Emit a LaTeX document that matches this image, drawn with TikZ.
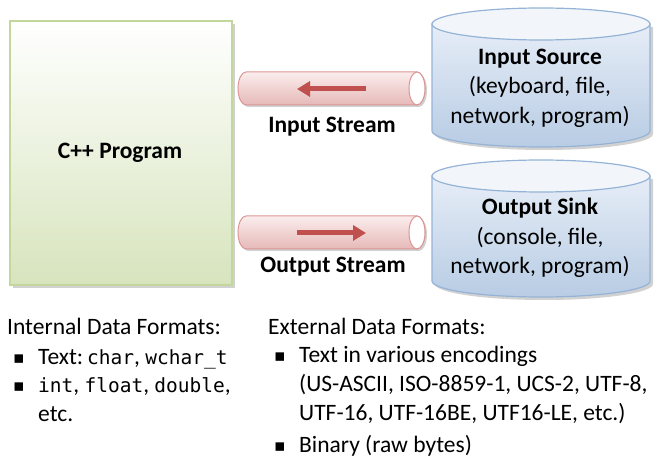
\documentclass[tikz,border=0pt]{standalone}
\usepackage{fontspec}
\setmainfont{Carlito}
\newfontfamily\codefont{DejaVu Sans Mono}
\newfontfamily\symfont{DejaVu Sans}
\usetikzlibrary{arrows.meta}
\definecolor{boxborder}{HTML}{C3D69B}
\definecolor{boxbottom}{HTML}{D7E4BD}
\definecolor{cylborder}{HTML}{95B3D7}
\definecolor{cyltop}{HTML}{E6EDF7}
\definecolor{cylbottom}{HTML}{B8CCE4}
\definecolor{cyllid}{HTML}{F2F6FB}
\definecolor{pipeborder}{HTML}{D99694}
\definecolor{pipetop}{HTML}{FBEDED}
\definecolor{pipebottom}{HTML}{E6B9B8}
\definecolor{arrowred}{HTML}{C0504D}
\tikzset{
  boldlabel/.style={font=\bfseries\fontsize{23.5}{27}\selectfont, inner sep=0pt},
  cyltext/.style={align=center, font=\fontsize{23.5}{29.5}\selectfont, inner sep=0pt},
  listtext/.style={anchor=base west, font=\fontsize{23.5}{27}\selectfont, inner sep=0pt},
  bullet/.style={anchor=base west, font=\symfont\fontsize{17}{18}\selectfont, inner sep=0pt},
  shadowfill/.style={fill=black, opacity=0.18},
  streamarrow/.style={arrowred, line width=5pt, -{Triangle[length=13pt,width=15pt]}},
}
\newcommand{\cd}[1]{{\codefont\fontsize{19.5}{24}\selectfont #1}}
\begin{document}
\begin{tikzpicture}[x=1pt,y=-1pt]
\useasboundingbox (0,0) rectangle (665,462);
% C++ program box
\fill[shadowfill] (13,24) rectangle (235,288);
\shade[top color=white, bottom color=boxbottom, draw=boxborder, line width=1.2pt] (10,21) rectangle (232,285);
\node[boldlabel] (prog) at (120,153) {C++ Program};

% Input pipe
\fill[shadowfill] (419,74) -- (248,74) arc[start angle=-90,end angle=-270,x radius=8,y radius=16.5] -- (419,107) arc[start angle=90,end angle=-90,x radius=8,y radius=16.5] -- cycle;
\shade[top color=pipetop, bottom color=pipebottom, draw=pipeborder, line width=1pt]
  (417,72) -- (246,72) arc[start angle=-90,end angle=-270,x radius=8,y radius=16.5] -- (417,105) arc[start angle=90,end angle=-90,x radius=8,y radius=16.5] -- cycle;
\filldraw[fill=white, draw=pipeborder, line width=1pt] (417,88.5) ellipse[x radius=8,y radius=16.5];
\coordinate (ia) at (366,89);
\coordinate (ib) at (297,89);
\draw[streamarrow] (ia) -- (ib);
\node[boldlabel, anchor=base] (instream) at (332,133) {Input Stream};

% Output pipe
\fill[shadowfill] (419,218) -- (248,218) arc[start angle=-90,end angle=-270,x radius=8,y radius=16.5] -- (419,251) arc[start angle=90,end angle=-90,x radius=8,y radius=16.5] -- cycle;
\shade[top color=pipetop, bottom color=pipebottom, draw=pipeborder, line width=1pt]
  (417,216) -- (246,216) arc[start angle=-90,end angle=-270,x radius=8,y radius=16.5] -- (417,249) arc[start angle=90,end angle=-90,x radius=8,y radius=16.5] -- cycle;
\filldraw[fill=white, draw=pipeborder, line width=1pt] (417,232.5) ellipse[x radius=8,y radius=16.5];
\coordinate (oa) at (297,233);
\coordinate (ob) at (366,233);
\draw[streamarrow] (oa) -- (ob);
\node[boldlabel, anchor=base] (outstream) at (333,273) {Output Stream};

% Input Source cylinder
\fill[shadowfill] (435,27) -- (435,134) arc[start angle=180,end angle=0,x radius=109,y radius=16] -- (653,27) -- cycle;
\shade[top color=cyltop, bottom color=cylbottom, draw=cylborder, line width=1.2pt]
  (432,24) -- (432,131) arc[start angle=180,end angle=0,x radius=109,y radius=16] -- (650,24) -- cycle;
\filldraw[fill=cyllid, draw=cylborder, line width=1.2pt] (541,24) ellipse[x radius=109,y radius=16];
\node[cyltext] (src) at (540,88) {\textbf{Input Source}\\(keyboard, file,\\network, program)};

% Output Sink cylinder
\fill[shadowfill] (435,179) -- (435,284) arc[start angle=180,end angle=0,x radius=109,y radius=16] -- (653,179) -- cycle;
\shade[top color=cyltop, bottom color=cylbottom, draw=cylborder, line width=1.2pt]
  (432,176) -- (432,281) arc[start angle=180,end angle=0,x radius=109,y radius=16] -- (650,176) -- cycle;
\filldraw[fill=cyllid, draw=cylborder, line width=1.2pt] (541,176) ellipse[x radius=109,y radius=16];
\node[cyltext] (sink) at (540,238) {\textbf{Output Sink}\\(console, file,\\network, program)};

% Internal formats
\node[listtext] (inthead) at (7,335) {Internal Data Formats:};
\node[bullet] (ib1) at (13,364) {▪};
\node[listtext] (int1) at (38,365) {Text:\,\cd{char}, \cd{wchar\_t}};
\node[bullet] (ib2) at (13,392) {▪};
\node[listtext] (int2) at (38,393) {\cd{int}, \cd{float}, \cd{double},};
\node[listtext] (int3) at (38,422) {etc.};

% External formats
\node[listtext] (exthead) at (268,335) {External Data Formats:};
\node[bullet] (eb1) at (274,362) {▪};
\node[listtext] (ext1) at (299,363) {Text in various encodings};
\node[listtext] (ext2) at (299,392) {(US-ASCII, ISO-8859-1, UCS-2, UTF-8,};
\node[listtext] (ext3) at (299,421) {UTF-16, UTF-16BE, UTF16-LE, etc.)};
\node[bullet] (eb2) at (274,452) {▪};
\node[listtext] (ext4) at (299,453) {Binary (raw bytes)};
\end{tikzpicture}
\end{document}
